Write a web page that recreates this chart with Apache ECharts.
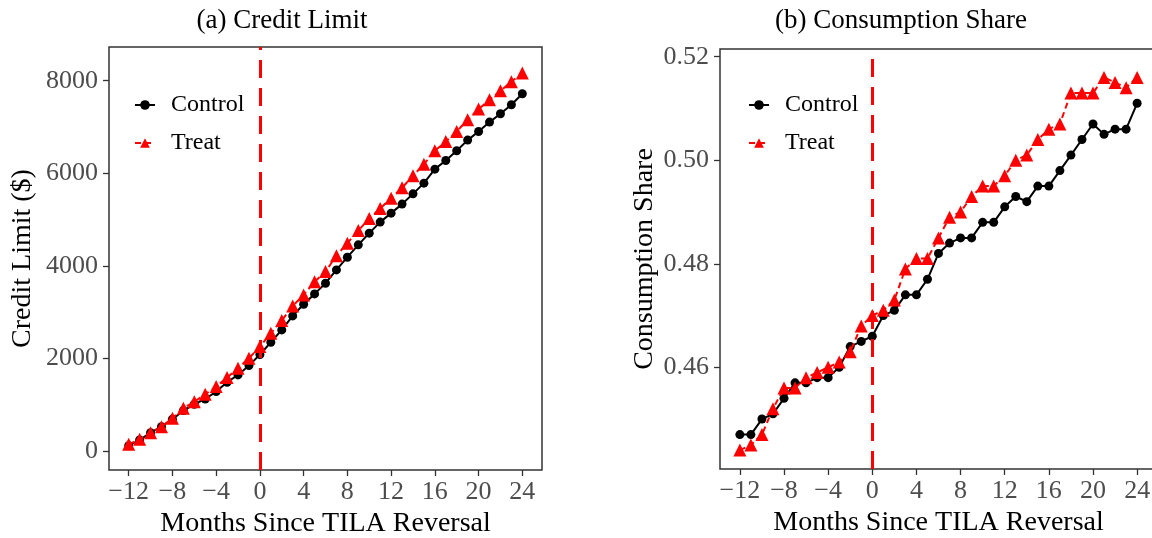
<!DOCTYPE html>
<html>
<head>
<meta charset="utf-8">
<script src="https://cdn.jsdelivr.net/npm/echarts@6/dist/echarts.min.js"></script>
<style>
  html, body { margin: 0; padding: 0; background: #ffffff; }
  #chart { width: 1152px; height: 538px; }
</style>
</head>
<body>
<div id="chart"></div>
<script>
// Months relative to the TILA reversal
const months = [-12,-11,-10,-9,-8,-7,-6,-5,-4,-3,-2,-1,0,1,2,3,4,5,6,7,8,9,10,11,12,13,14,15,16,17,18,19,20,21,22,23,24];

// Panel (a): average credit limit ($)
const creditControl = [115,238,396,526,685,872,1009,1124,1283,1485,1643,1845,2083,2350,2616,2919,3171,3394,3625,3913,4187,4454,4707,4945,5139,5334,5556,5787,6090,6276,6486,6717,6903,7106,7286,7481,7718];
const creditTreat   = [144,252,396,526,707,923,1066,1225,1391,1585,1788,2004,2255,2544,2817,3135,3373,3654,3877,4216,4491,4763,5022,5239,5463,5686,5945,6198,6486,6687,6903,7156,7387,7589,7783,7978,8166];

// Panel (b): consumption share
const shareControl = [0.447,0.447,0.450,0.451,0.454,0.457,0.457,0.458,0.458,0.460,0.464,0.465,0.466,0.470,0.471,0.474,0.474,0.477,0.482,0.484,0.485,0.485,0.488,0.488,0.491,0.493,0.492,0.495,0.495,0.498,0.501,0.504,0.507,0.505,0.506,0.506,0.511];
const shareTreat   = [0.444,0.445,0.447,0.452,0.456,0.456,0.458,0.459,0.460,0.461,0.463,0.468,0.470,0.471,0.473,0.479,0.481,0.481,0.485,0.489,0.490,0.493,0.495,0.495,0.497,0.500,0.501,0.504,0.506,0.507,0.513,0.513,0.513,0.516,0.515,0.514,0.516];

// Tick values
const monthTicks  = [-12,-8,-4,0,4,8,12,16,20,24];
const creditTicks = [0,2000,4000,6000,8000];
const shareTicks  = [0.46,0.48,0.50,0.52];

const seriesNames = ['Control', 'Treat'];
const panelTitles = ['(a) Credit Limit', '(b) Consumption Share'];
const xTitle = 'Months Since TILA Reversal';
const yTitles = ['Credit Limit ($)', 'Consumption Share'];

const SERIF = '"Liberation Serif", "Times New Roman", serif';
const TICK_GRAY = '#4D4D4D';
const FRAME = '#333333';

const pairs = (ys) => months.map((m, i) => [m, ys[i]]);

function xAxisFor(gridIndex) {
  return {
    type: 'value', gridIndex,
    min: -13.8, max: 25.8,
    name: xTitle, nameLocation: 'middle', nameGap: 38,
    nameTextStyle: { fontFamily: SERIF, fontSize: 28, color: '#000' },
    axisLine: { show: false, onZero: false },
    splitLine: { show: false },
    axisTick: { show: true, length: 6, lineStyle: { color: FRAME, width: 1.3 }, customValues: monthTicks },
    axisLabel: {
      customValues: monthTicks, margin: 9,
      fontFamily: SERIF, fontSize: 26, color: TICK_GRAY,
      formatter: (v) => String(v).replace('-', '\u2212')
    }
  };
}

function yAxisFor(gridIndex, min, max, ticks, fmt, nameGap) {
  return {
    type: 'value', gridIndex, min, max,
    name: yTitles[gridIndex], nameLocation: 'middle', nameGap,
    nameTextStyle: { fontFamily: SERIF, fontSize: 28, color: '#000' },
    axisLine: { show: false, onZero: false },
    splitLine: { show: false },
    axisTick: { show: true, length: 6, lineStyle: { color: FRAME, width: 1.3 }, customValues: ticks },
    axisLabel: {
      customValues: ticks, margin: 11,
      fontFamily: SERIF, fontSize: 26, color: TICK_GRAY,
      formatter: fmt
    }
  };
}

const cutoffLine = {
  silent: true,
  symbol: ['none', 'none'],
  label: { show: false },
  lineStyle: { color: '#FF0000', type: [18, 10], width: 3 },
  data: [{ xAxis: 0 }]
};

function controlSeries(idx, ys, withCutoff) {
  return {
    name: seriesNames[0], type: 'line',
    xAxisIndex: idx, yAxisIndex: idx,
    data: pairs(ys),
    symbol: 'circle', symbolSize: 9,
    lineStyle: { color: '#000', width: 2 },
    itemStyle: { color: '#000' },
    z: 3,
    markLine: withCutoff ? cutoffLine : undefined
  };
}

function treatSeries(idx, ys) {
  return {
    name: seriesNames[1], type: 'line',
    xAxisIndex: idx, yAxisIndex: idx,
    data: pairs(ys),
    symbol: 'triangle', symbolSize: 13,
    lineStyle: { color: '#FF0000', width: 2, type: [6, 4] },
    itemStyle: { color: '#FF0000' },
    z: 4
  };
}

function legendFor(left) {
  return {
    orient: 'vertical', left, top: 93, padding: 0,
    itemWidth: 20, itemHeight: 12, itemGap: 14,
    data: seriesNames,
    textStyle: { fontFamily: SERIF, fontSize: 24, color: '#000', padding: [0, 0, 0, 11] }
  };
}

const gridBase = {
  show: true, borderColor: FRAME, borderWidth: 1.5, backgroundColor: 'transparent',
  containLabel: false, outerBoundsMode: 'none'
};

const chart = echarts.init(document.getElementById('chart'), null, { renderer: 'canvas' });
chart.setOption({
  animation: false,
  backgroundColor: '#ffffff',
  title: [
    { text: panelTitles[0], left: 277, top: 2, textAlign: 'center',
      textStyle: { fontFamily: SERIF, fontSize: 27, fontWeight: 'normal', color: '#000' } },
    { text: panelTitles[1], left: 896, top: 2, textAlign: 'center',
      textStyle: { fontFamily: SERIF, fontSize: 27, fontWeight: 'normal', color: '#000' } }
  ],
  legend: [legendFor(134), legendFor(748)],
  grid: [
    Object.assign({ left: 109, top: 47, width: 433, height: 423 }, gridBase),
    Object.assign({ left: 720, top: 49, width: 437, height: 420 }, gridBase)
  ],
  xAxis: [xAxisFor(0), xAxisFor(1)],
  yAxis: [
    yAxisFor(0, -411, 8729, creditTicks, (v) => String(v), 72),
    yAxisFor(1, 0.44035, 0.52149, shareTicks, (v) => v.toFixed(2), 61)
  ],
  series: [
    controlSeries(0, creditControl, true),
    treatSeries(0, creditTreat),
    controlSeries(1, shareControl, true),
    treatSeries(1, shareTreat)
  ]
});
</script>
</body>
</html>
